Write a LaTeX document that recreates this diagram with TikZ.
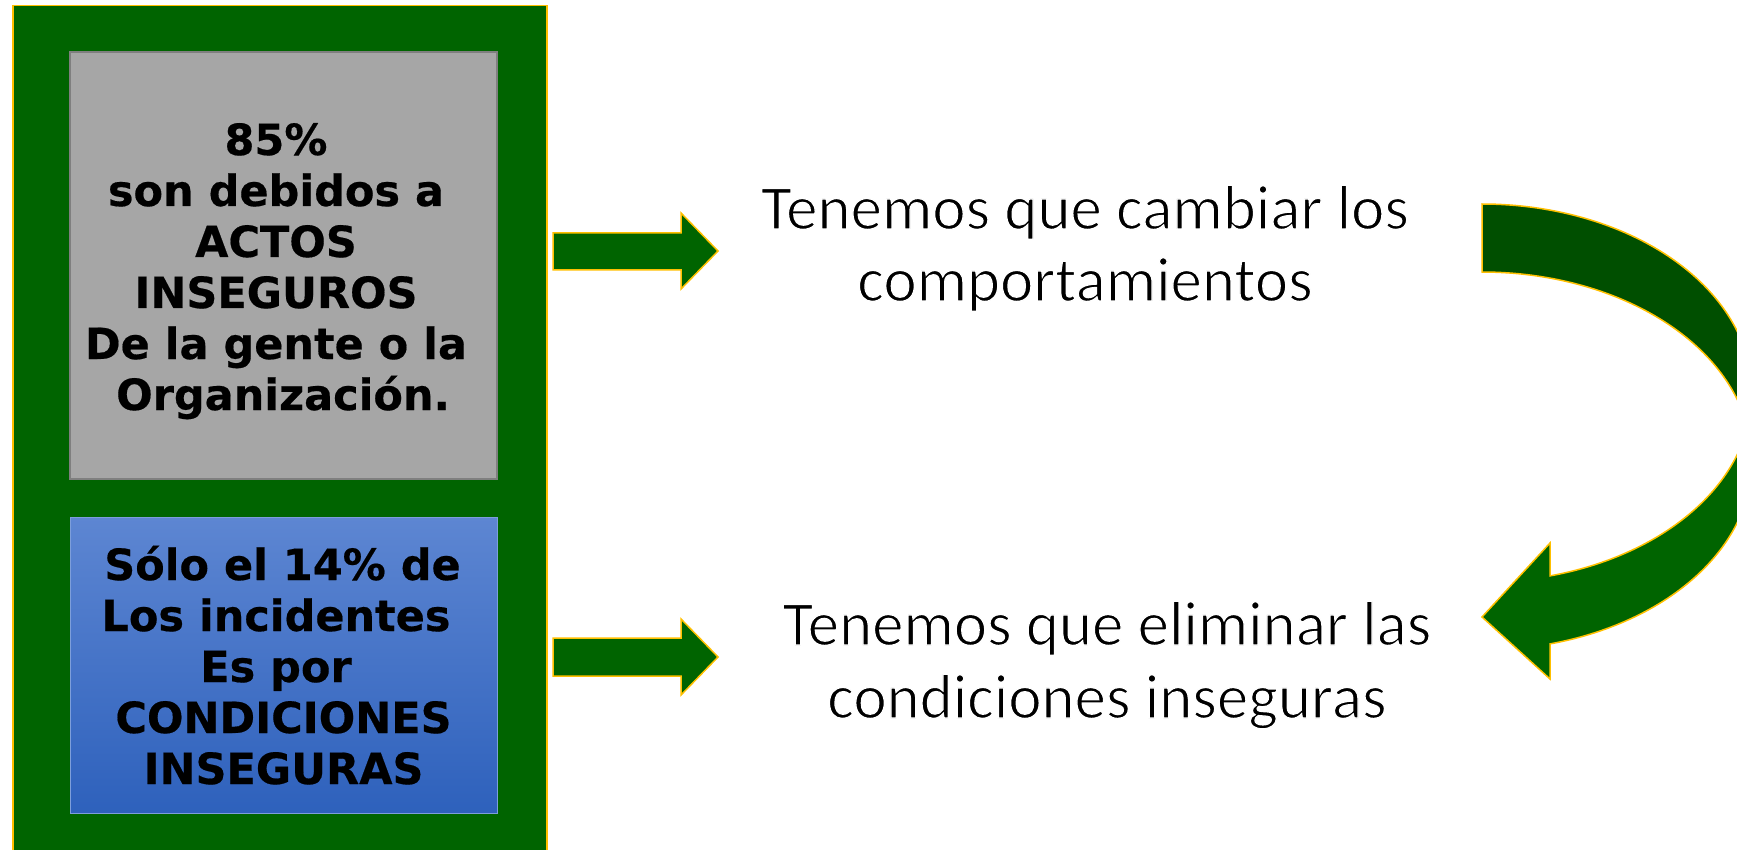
\documentclass[tikz,border=0pt]{standalone}
\usepackage{fontspec}
\newfontfamily\vfont{DejaVu Sans Bold}[FakeBold=0.4]
\newfontfamily\cfont{Carlito}
\definecolor{pgreen}{HTML}{006400}
\definecolor{dgreen}{HTML}{004F00}
\definecolor{gold}{HTML}{FFC000}
\definecolor{grayfill}{HTML}{A6A6A6}
\definecolor{grayedge}{HTML}{7F7F7F}
\definecolor{bluetop}{HTML}{5D86D2}
\definecolor{bluebot}{HTML}{2E61BC}
\newcommand{\thintext}[1]{\special{pdf:literal direct q 2 Tr 1.3 w 1 1 1 RG}#1\special{pdf:literal direct Q}}
\tikzset{
 boxtxt/.style={anchor=base, inner sep=0pt, font=\vfont\fontsize{43}{50}\selectfont, text=black},
 righttxt/.style={anchor=base, inner sep=0pt, font=\cfont\fontsize{63}{72}\selectfont, text=black},
 blockarrow/.style={fill=pgreen, draw=gold, line width=1.5pt, line join=miter},
 goldline/.style={draw=gold, line width=1.5pt, line join=miter},
}
\begin{document}
\begin{tikzpicture}[x=1pt,y=-1pt]
\clip (0,0) rectangle (1737,850);
\fill[white] (0,0) rectangle (1737,850);
% left panel
\draw[fill=pgreen, draw=gold, line width=1.5pt] (13,5.5) rectangle (547,870);
\draw[fill=grayfill, draw=grayedge, line width=2.5pt] (70,52) rectangle (497,479);
\shade[top color=bluetop, bottom color=bluebot] (70,517) rectangle (497,813);
\draw[bluetop!80!white, line width=1pt] (70,517) rectangle (497,813);
% gray box text
\node[boxtxt] (g1) at (276,155) {85\%};
\node[boxtxt] (g2) at (276,206) {son debidos a};
\node[boxtxt] (g3) at (276,257) {ACTOS};
\node[boxtxt] (g4) at (276,308) {INSEGUROS};
\node[boxtxt] (g5) at (276,359) {De la gente o la};
\node[boxtxt] (g6) at (283,410) {Organización.};
% blue box text
\node[boxtxt] (b1) at (282.5,580) {Sólo el 14\% de};
\node[boxtxt] (b2) at (276,631) {Los incidentes};
\node[boxtxt] (b3) at (276,682) {Es por};
\node[boxtxt] (b4) at (283.5,733) {CONDICIONES};
\node[boxtxt] (b5) at (283.5,784) {INSEGURAS};
% straight arrows
\draw[blockarrow] (553,233) -- (681,233) -- (681,213) -- (718,251) -- (681,289) -- (681,270) -- (553,270) -- cycle;
\draw[blockarrow] (553,638) -- (681,638) -- (681,619) -- (718,657) -- (681,695) -- (681,676) -- (553,676) -- cycle;
% right texts
\node[righttxt] (t1) at (1085,229) {\thintext{Tenemos que cambiar los}};
\node[righttxt] (t2) at (1085,301) {\thintext{comportamientos}};
\node[righttxt] (t3) at (1107,645) {\thintext{Tenemos que eliminar las}};
\node[righttxt] (t4) at (1107,718) {\thintext{condiciones inseguras}};
% curved arrow: upper (darker) band
\fill[dgreen] plot[domain=-90:10.36, samples=70] ({1482+270*cos(\x)},{393+189*sin(\x)})
  -- plot[domain=-10.36:-90, samples=70] ({1482+270*cos(\x)},{461+189*sin(\x)}) -- cycle;
% lower band with head
\fill[pgreen] plot[domain=-10.36:75.41, samples=70] ({1482+270*cos(\x)},{461+189*sin(\x)})
  -- (1550,679) -- (1482,617) -- (1550,543)
  -- plot[domain=75.41:10.36, samples=70] ({1482+270*cos(\x)},{393+189*sin(\x)}) -- cycle;
% outline
\draw[goldline] plot[domain=-90:10.36, samples=70] ({1482+270*cos(\x)},{393+189*sin(\x)})
  -- plot[domain=-10.36:75.41, samples=70] ({1482+270*cos(\x)},{461+189*sin(\x)})
  -- (1550,679) -- (1482,617) -- (1550,543)
  -- plot[domain=75.41:10.36, samples=70] ({1482+270*cos(\x)},{393+189*sin(\x)})
  -- plot[domain=-10.36:-90, samples=70] ({1482+270*cos(\x)},{461+189*sin(\x)}) -- cycle;
\end{tikzpicture}
\end{document}
